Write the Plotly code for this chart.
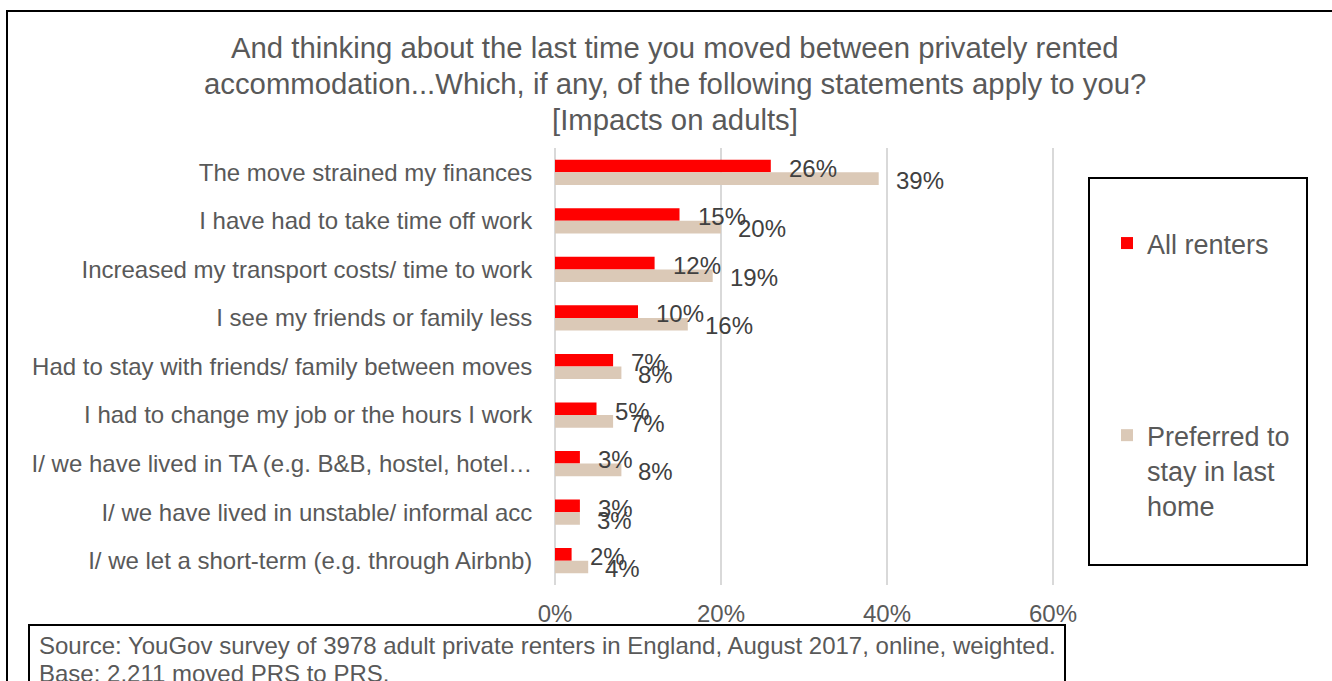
import plotly.graph_objects as go

# Survey statements and shares of respondents (%)
statements = [
    "The move strained my finances",
    "I have had to take time off work",
    "Increased my transport costs/ time to work",
    "I see my friends or family less",
    "Had to stay with friends/ family between moves",
    "I had to change my job or the hours I work",
    "I/ we have lived in TA (e.g. B&B, hostel, hotel…",
    "I/ we have lived in unstable/ informal acc",
    "I/ we let a short-term (e.g. through Airbnb)",
]
all_renters = [26, 15, 12, 10, 7, 5, 3, 3, 2]
preferred_to_stay = [39, 20, 19, 16, 8, 7, 8, 3, 4]

series_names = ["All renters", "Preferred to<br>stay in last<br>home"]
series_colors = ["#FF0000", "#DBC9B7"]
x_ticks = [0, 0.2, 0.4, 0.6]
x_tick_labels = ["0%", "20%", "40%", "60%"]

title_lines = [
    "And thinking about the last time you moved between privately rented",
    "accommodation...Which, if any, of the following statements apply to you?",
    "[Impacts on adults]",
]
source_lines = [
    "Source: YouGov survey of 3978 adult private renters in England, August 2017, online, weighted.",
    "Base: 2.211 moved PRS to PRS.",
]

W, H = 1332, 681
FONT = "Liberation Sans, Arial, sans-serif"
TEXT_GREY = "#595959"
LABEL_GREY = "#404040"

# horizontal scale: 0% at x=555px, 60% at x=1053px
PX_PER_UNIT = (1053 - 555) / 0.6
X_PAD = 0.002


def px_x(p):
    return p / W


def px_y(p):
    return 1 - p / H


fig = go.Figure()
for name, vals, color, grp in zip(series_names, [all_renters, preferred_to_stay],
                                  series_colors, ["a", "b"]):
    fig.add_trace(go.Bar(
        y=statements,
        x=[v / 100 for v in vals],
        name=name,
        orientation="h",
        marker=dict(color=color, line=dict(width=0)),
        legendgroup=grp,
        hoverinfo="skip",
    ))

# Value labels placed just beyond each bar end
annotations = []
for vals, yshift, xshift in [(all_renters, 4, 16), (preferred_to_stay, -8, 15)]:
    for cat, v in zip(statements, vals):
        annotations.append(dict(
            x=v / 100, y=cat, xref="x", yref="y",
            text=f"{v}%", showarrow=False,
            xanchor="left", yanchor="middle",
            xshift=xshift, yshift=yshift,
            font=dict(family=FONT, size=24, color=LABEL_GREY),
        ))

# Title lines
for line, ypx in zip(title_lines, [48, 84, 119]):
    annotations.append(dict(
        x=px_x(675), y=px_y(ypx), xref="paper", yref="paper",
        text=line, showarrow=False, xanchor="center", yanchor="middle",
        font=dict(family=FONT, size=29.3, color=TEXT_GREY),
    ))

# Source note
for line, ypx in zip(source_lines, [645, 673]):
    annotations.append(dict(
        x=px_x(37), y=px_y(ypx), xref="paper", yref="paper",
        text=line, showarrow=False, xanchor="left", yanchor="middle",
        font=dict(family=FONT, size=24, color=TEXT_GREY),
    ))

shapes = [
    # outer chart border
    dict(type="rect", xref="paper", yref="paper",
         x0=px_x(7), x1=1.05, y0=-0.05, y1=px_y(11),
         line=dict(color="#000000", width=2)),
    # legend frame
    dict(type="rect", xref="paper", yref="paper",
         x0=px_x(1089), x1=px_x(1307), y0=px_y(565), y1=px_y(178),
         line=dict(color="#000000", width=2)),
    # source note frame
    dict(type="rect", xref="paper", yref="paper",
         x0=px_x(29), x1=px_x(1065), y0=-0.05, y1=px_y(625),
         line=dict(color="#000000", width=2), fillcolor="white", layer="below"),
]

fig.update_layout(
    width=W, height=H,
    margin=dict(l=0, r=0, t=0, b=0, autoexpand=False),
    paper_bgcolor="white", plot_bgcolor="white",
    barmode="group", bargap=0.48, bargroupgap=0,
    font=dict(family=FONT, size=24, color=TEXT_GREY),
    xaxis=dict(
        domain=[px_x(555 - X_PAD * PX_PER_UNIT), px_x(1053 + X_PAD * PX_PER_UNIT)],
        range=[-X_PAD, 0.6 + X_PAD], tickvals=x_ticks, ticktext=x_tick_labels,
        showgrid=True, gridcolor="#D9D9D9", gridwidth=2,
        zeroline=False, showline=False, ticks="",
        ticklabelstandoff=12, automargin=False,
        tickfont=dict(family=FONT, size=24, color=TEXT_GREY),
        fixedrange=True,
    ),
    yaxis=dict(
        domain=[px_y(585), px_y(148)],
        type="category", categoryorder="array", categoryarray=statements,
        autorange="reversed",
        showgrid=False, zeroline=False, showline=False, ticks="",
        ticklabelstandoff=20, automargin=False,
        tickfont=dict(family=FONT, size=24, color=TEXT_GREY),
        fixedrange=True,
    ),
    legend=dict(
        x=px_x(1107), y=px_y(219), xanchor="left", yanchor="top",
        bgcolor="rgba(0,0,0,0)", borderwidth=0,
        font=dict(family=FONT, size=27, color=TEXT_GREY),
        traceorder="grouped", tracegroupgap=154, valign="top",
    ),
    annotations=annotations,
    shapes=shapes,
    showlegend=True,
)

fig.write_html("out.html")
